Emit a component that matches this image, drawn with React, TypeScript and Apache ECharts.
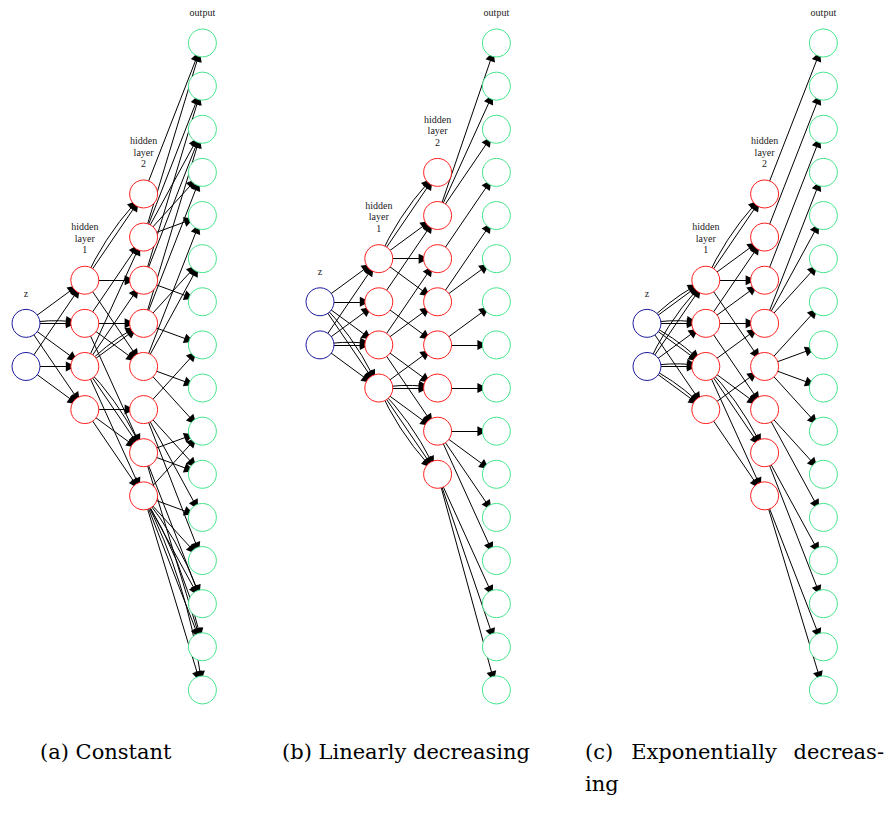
import React, { useEffect, useRef } from "react";
import * as echarts from "echarts";

// ---------- data ----------
const LAYER_SIZES = [2, 4, 8, 16];
const LAYER_LABELS = ["z", "hidden\nlayer\n1", "hidden\nlayer\n2", "output"];
const CAPTIONS = ["(a) Constant", "(b) Linearly decreasing"];
const CAPTION_C_WORDS = ["(c)", "Exponentially", "decreas-", "ing"];

// edges: [fromIndex, toIndex] between consecutive layers
const inH1A = [[0,0],[0,1],[0,1],[0,2],[0,3],[1,0],[1,2],[1,3]];
const h1h2A = [[0,0],[0,0],[0,2],[0,4],[1,1],[1,3],[1,4],[1,6],[2,1],[2,2],[2,3],[2,3],[2,6],[2,6],[2,7],[3,5],[3,6],[3,7]];
const h2outA = [[0,0],[1,0],[1,1],[1,2],[1,3],[1,4],[2,1],[2,2],[2,6],[3,2],[3,3],[3,5],[3,7],[4,4],[4,5],[4,8],[4,9],[5,7],[5,10],[5,11],[5,12],[6,9],[6,10],[6,13],[6,14],[7,9],[7,11],[7,12],[7,13],[7,13],[7,14],[7,14],[7,15],[7,15]];

const inH1B = [[0,0],[0,1],[0,2],[0,3],[0,3],[1,0],[1,1],[1,2],[1,2],[1,3]];
const h1h2B = [[0,0],[0,0],[0,1],[0,2],[0,3],[1,1],[1,4],[2,2],[2,3],[2,5],[2,6],[3,4],[3,5],[3,5],[3,6],[3,7],[3,7],[3,7]];
const h2outB = [[1,0],[1,1],[1,2],[2,3],[3,4],[3,5],[4,6],[4,7],[5,8],[6,9],[6,10],[6,11],[6,12],[7,13],[7,14],[7,15]];

const inH1C = [[0,0],[0,0],[0,1],[0,1],[0,2],[0,2],[0,3],[1,0],[1,0],[1,1],[1,2],[1,2],[1,3],[1,3]];
const h1h2C = [[0,0],[0,0],[0,1],[0,2],[0,4],[1,1],[1,2],[1,3],[1,5],[2,3],[2,5],[2,6],[2,6],[2,7],[3,4],[3,7]];
const h2outC = [[0,0],[1,1],[2,2],[3,3],[3,4],[3,5],[4,6],[4,7],[4,8],[4,9],[5,10],[5,11],[6,12],[6,13],[7,14],[7,15]];

const PANEL_EDGES = [
  [inH1A, h1h2A, h2outA],
  [inH1B, h1h2B, h2outB],
  [inH1C, h1h2C, h2outC],
];

// ---------- layout & style ----------
const W = 886;
const H = 825;
const COL_STEP = 58.8;
const ROW_TOP = 43;
const ROW_STEP = 43.13;
const PANEL_LAYOUT = [
  { x0: 26, rows: [6.5, 5.5, 3.5, 0] },
  { x0: 320, rows: [6, 5, 3, 0] },
  { x0: 647, rows: [6.5, 5.5, 3.5, 0] },
];
const LAYER_COLORS = ["#1c1c9c", "#ff1f1f", "#ff1f1f", "#46e48c"];
const LABEL_FONT = "Liberation Serif";
const CAPTION_FONT = '21px "DejaVu Serif"';

function buildSeries(p: number) {
  const lay = PANEL_LAYOUT[p];
  const nodes: any[] = [];
  LAYER_SIZES.forEach((n, l) => {
    for (let i = 0; i < n; i++) {
      const item: any = {
        id: `${p}-${l}-${i}`,
        name: `${p}-${l}-${i}`,
        value: [lay.x0 + l * COL_STEP, ROW_TOP + (lay.rows[l] + i) * ROW_STEP],
        itemStyle: { color: "#ffffff", borderColor: LAYER_COLORS[l], borderWidth: 1 },
        label: { show: false },
      };
      if (i === 0) {
        item.label = {
          show: true,
          position: "top",
          distance: 10,
          formatter: LAYER_LABELS[l],
          fontSize: 10,
          lineHeight: 11.5,
          fontFamily: LABEL_FONT,
          color: "#222222",
        };
      }
      nodes.push(item);
    }
  });
  const links: any[] = [];
  PANEL_EDGES[p].forEach((edges, l) => {
    const seen: Record<string, number> = {};
    edges.forEach(([a, b]) => {
      const key = `${a}-${b}`;
      const k = seen[key] || 0;
      seen[key] = k + 1;
      const curv = k === 0 ? 0 : k === 1 ? 0.09 : -0.09;
      links.push({
        source: `${p}-${l}-${a}`,
        target: `${p}-${l + 1}-${b}`,
        lineStyle: { curveness: curv },
      });
    });
  });
  return {
    type: "graph",
    coordinateSystem: "cartesian2d",
    xAxisIndex: 0,
    yAxisIndex: 0,
    symbol: "circle",
    symbolSize: 28,
    silent: true,
    edgeSymbol: ["none", "triangle"],
    edgeSymbolSize: [0, 10],
    lineStyle: { color: "#000000", width: 1, opacity: 1 },
    data: nodes,
    links,
    z: 2,
  };
}

export default function App() {
  const ref = useRef<HTMLDivElement>(null);
  useEffect(() => {
    document.body.style.margin = "0";
    if (!ref.current) return;
    const chart = echarts.init(ref.current, null, { renderer: "svg" });
    const cap = (text: string, x: number, y: number, align: string) => ({
      type: "text",
      x,
      y,
      style: { text, font: CAPTION_FONT, fill: "#000", textAlign: align, textVerticalAlign: "middle" },
    });
    const graphic: any[] = [
      cap(CAPTIONS[0], 40, 752, "left"),
      cap(CAPTIONS[1], 282, 752, "left"),
      cap(CAPTION_C_WORDS[0], 585, 752, "left"),
      cap(CAPTION_C_WORDS[1], 704, 752, "center"),
      cap(CAPTION_C_WORDS[2], 884, 752, "right"),
      cap(CAPTION_C_WORDS[3], 585, 784, "left"),
    ];
    chart.setOption({
      animation: false,
      backgroundColor: "#ffffff",
      grid: { left: 0, right: 0, top: 0, bottom: 0 },
      xAxis: { type: "value", min: 0, max: W, show: false },
      yAxis: { type: "value", min: 0, max: H, inverse: true, show: false },
      series: [buildSeries(0), buildSeries(1), buildSeries(2)],
      graphic,
    });
    return () => chart.dispose();
  }, []);
  return <div ref={ref} style={{ width: W, height: H }} />;
}
